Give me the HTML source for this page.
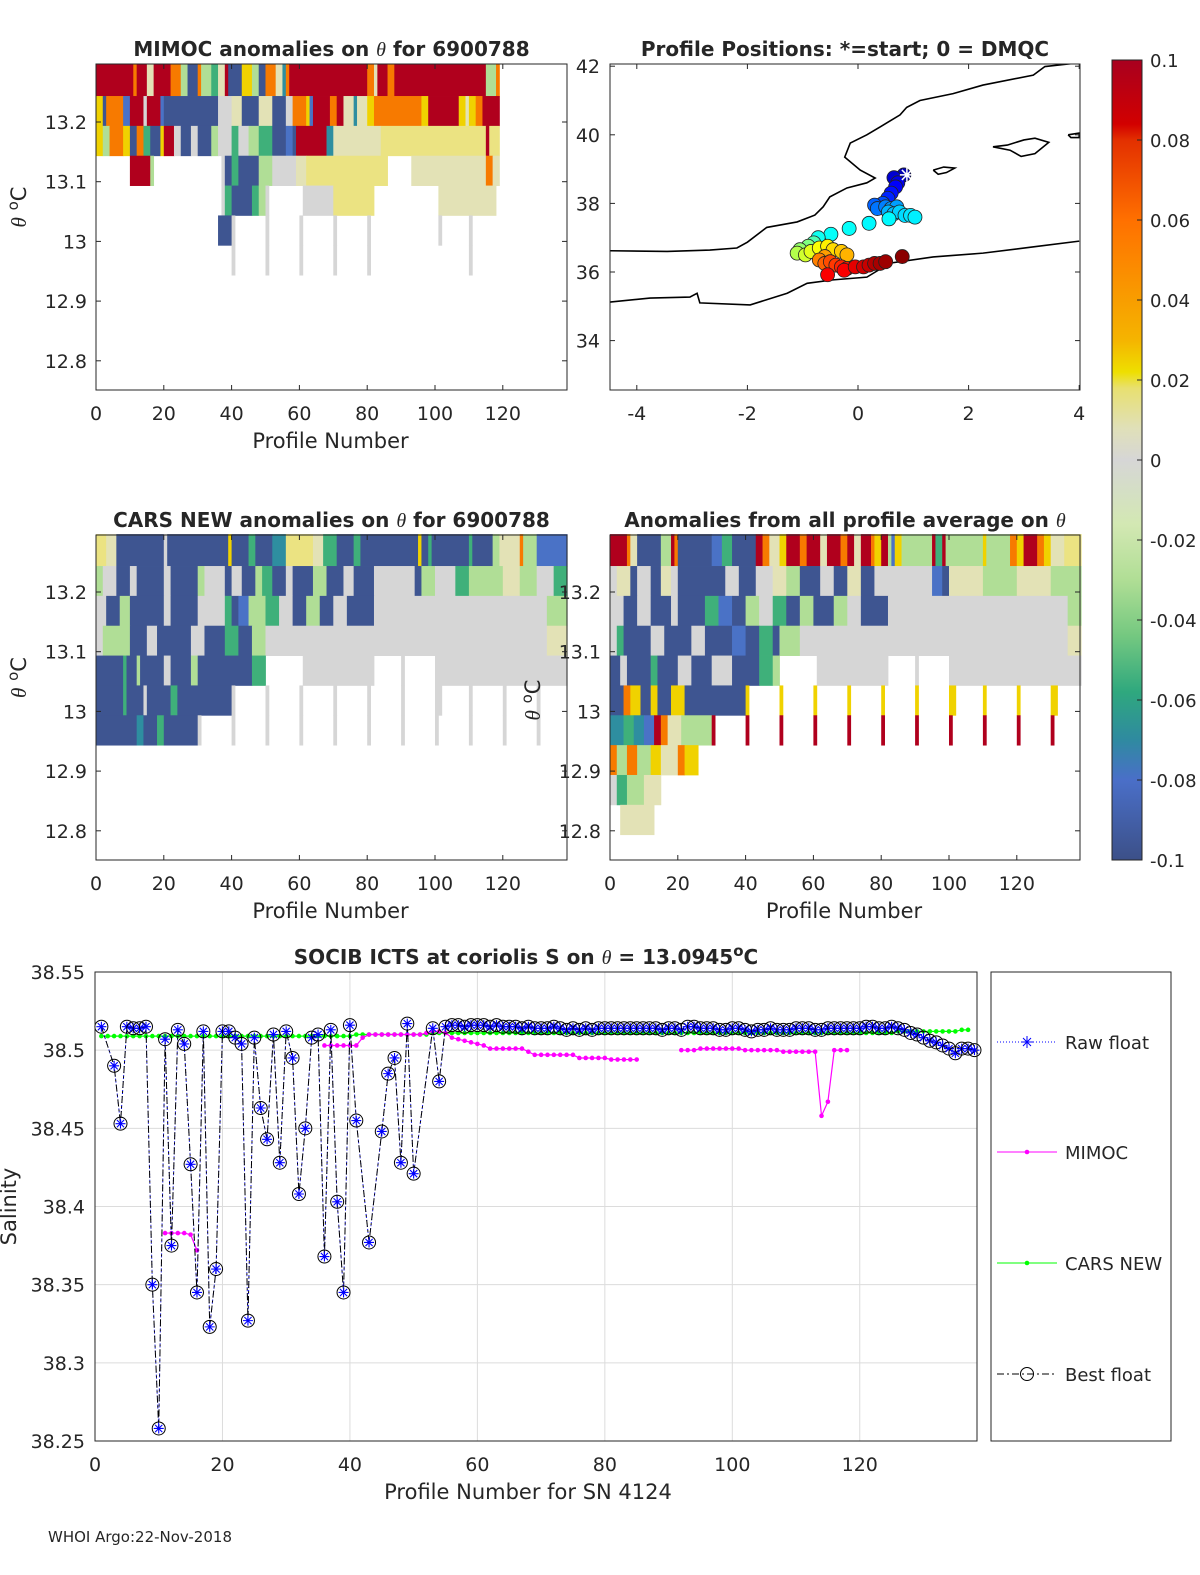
<!DOCTYPE html>
<html><head><meta charset="utf-8"><style>
html,body{margin:0;padding:0;background:#fff;}
svg{display:block;font-family:"DejaVu Sans","Liberation Sans",sans-serif;}
text{fill:#262626;}
</style></head><body>
<svg id="fig" width="1200" height="1575" viewBox="0 0 1200 1575" xmlns="http://www.w3.org/2000/svg">
<defs>
<linearGradient id="cbgrad" x1="0" y1="0" x2="0" y2="1">
<stop offset="0" stop-color="#a8001f"/><stop offset="0.08" stop-color="#d20000"/><stop offset="0.1" stop-color="#e33000"/>
<stop offset="0.2" stop-color="#ff7000"/><stop offset="0.35" stop-color="#f5b400"/><stop offset="0.39" stop-color="#eedf00"/>
<stop offset="0.41" stop-color="#e8e070"/><stop offset="0.46" stop-color="#e0e0b8"/><stop offset="0.5" stop-color="#d6d6d6"/>
<stop offset="0.58" stop-color="#d3e8b3"/><stop offset="0.65" stop-color="#b0de95"/><stop offset="0.72" stop-color="#74c880"/>
<stop offset="0.79" stop-color="#2fa87e"/><stop offset="0.85" stop-color="#2f8aa0"/><stop offset="0.9" stop-color="#4a6fc8"/>
<stop offset="1" stop-color="#3c5088"/></linearGradient>
</defs>
<g id="root"></g>
<text x="48" y="1542" font-size="15">WHOI Argo:22-Nov-2018</text>
</svg>
<script>
// ---------- DATA ----------
const heatThetaEdges=[13.297,13.2435,13.1935,13.1435,13.0935,13.0435,12.9935,12.9435,12.8935,12.8435,12.7935];
const mimocRows=[
[[0,11,'R'],[11,12,'O'],[12,15,'R'],[15,17,'L'],[17,22,'R'],[22,25,'O'],[25,27,'g'],[27,30,'B'],[30,31,'O'],[31,34,'g'],[34,36,'G'],[36,38,'L'],[38,39,'R'],[39,43,'B'],[43,46,'Y'],[46,48,'g'],[48,50,'B'],[50,53,'O'],[53,55,'L'],[55,56,'T'],[56,57,'O'],[57,80,'R'],[80,82,'O'],[82,83,'L'],[83,86,'R'],[86,88,'O'],[88,115,'R'],[115,118,'g'],[118,119,'O']],
[[0,2,'Y'],[2,3,'B'],[3,8,'O'],[8,10,'b'],[10,14,'R'],[14,15,'P'],[15,19,'R'],[19,20,'b'],[20,36,'B'],[36,40,'P'],[40,43,'L'],[43,48,'B'],[48,52,'L'],[52,56,'B'],[56,58,'P'],[58,62,'O'],[62,63,'Y'],[63,64,'b'],[64,69,'R'],[69,71,'O'],[71,73,'R'],[73,76,'L'],[76,77,'T'],[77,80,'L'],[80,82,'Y'],[82,96,'O'],[96,98,'Y'],[98,107,'R'],[107,109,'Y'],[109,110,'L'],[110,112,'Y'],[112,114,'O'],[114,119,'R']],
[[0,2,'Y'],[2,4,'g'],[4,8,'O'],[8,10,'Y'],[10,12,'B'],[12,14,'O'],[14,16,'G'],[16,19,'B'],[19,20,'Y'],[20,23,'R'],[23,25,'P'],[25,28,'B'],[28,30,'P'],[30,34,'B'],[34,36,'g'],[36,40,'P'],[40,42,'G'],[42,45,'P'],[45,48,'g'],[48,52,'G'],[52,56,'B'],[56,58,'b'],[58,59,'B'],[59,68,'R'],[68,70,'T'],[70,84,'L'],[84,115,'y'],[115,116,'R'],[116,119,'y']],
[[10,16,'R'],[16,17,'g'],[37,38,'P'],[38,40,'B'],[40,42,'G'],[42,48,'B'],[48,52,'g'],[52,59,'P'],[59,62,'L'],[62,86,'y'],[93,115,'L'],[115,117,'O'],[117,119,'L']],
[[37,38,'P'],[38,40,'G'],[40,46,'B'],[46,48,'G'],[48,50,'g'],[50,51,'P'],[61,70,'P'],[70,82,'y'],[101,118,'L']],
[[36,40,'B'],[40,41,'P'],[50,51,'P'],[60,61,'P'],[70,71,'P'],[80,81,'P'],[101,102,'P'],[110,111,'P']],
[[40,41,'P'],[50,51,'P'],[60,61,'P'],[70,71,'P'],[80,81,'P'],[110,111,'P']]
];
const carsRows=[
[[0,3,'y'],[3,6,'L'],[6,20,'B'],[20,21,'P'],[21,39,'B'],[39,40,'Y'],[40,45,'B'],[45,47,'G'],[47,52,'B'],[52,56,'T'],[56,64,'y'],[64,67,'L'],[67,71,'G'],[71,76,'B'],[76,78,'G'],[78,95,'B'],[95,96,'Y'],[96,98,'B'],[98,99,'G'],[99,110,'B'],[110,111,'G'],[111,117,'B'],[117,119,'g'],[119,125,'L'],[125,126,'O'],[126,130,'g'],[130,139,'b']],
[[0,2,'g'],[2,6,'P'],[6,10,'B'],[10,12,'P'],[12,20,'B'],[20,22,'P'],[22,30,'B'],[30,32,'g'],[32,38,'P'],[38,40,'B'],[40,43,'P'],[43,47,'B'],[47,49,'g'],[49,52,'G'],[52,56,'B'],[56,58,'P'],[58,64,'B'],[64,68,'g'],[68,73,'B'],[73,76,'P'],[76,82,'B'],[82,94,'P'],[94,96,'B'],[96,100,'g'],[100,106,'P'],[106,110,'G'],[110,120,'g'],[120,125,'L'],[125,130,'g'],[130,135,'P'],[135,139,'G']],
[[0,3,'P'],[3,7,'B'],[7,10,'g'],[10,20,'B'],[20,22,'P'],[22,30,'B'],[30,38,'P'],[38,40,'G'],[40,42,'B'],[42,45,'b'],[45,50,'g'],[50,54,'G'],[54,58,'P'],[58,62,'B'],[62,66,'g'],[66,70,'B'],[70,74,'P'],[74,82,'B'],[82,133,'P'],[133,139,'g']],
[[0,2,'P'],[2,10,'g'],[10,15,'B'],[15,18,'P'],[18,28,'B'],[28,32,'P'],[32,38,'B'],[38,42,'G'],[42,46,'B'],[46,50,'g'],[50,133,'P'],[133,139,'L']],
[[0,8,'B'],[8,9,'G'],[9,12,'B'],[12,13,'g'],[13,20,'B'],[20,22,'P'],[22,28,'B'],[28,30,'g'],[30,46,'B'],[46,50,'G'],[61,82,'P'],[90,91,'P'],[100,139,'P']],
[[0,8,'B'],[8,9,'G'],[9,14,'B'],[14,15,'P'],[15,22,'B'],[22,24,'G'],[24,40,'B'],[40,41,'P'],[50,51,'P'],[60,61,'P'],[70,71,'P'],[80,81,'P'],[90,91,'P'],[100,102,'P'],[110,111,'P'],[120,121,'P'],[130,131,'P']],
[[0,12,'B'],[12,14,'T'],[14,18,'B'],[18,20,'G'],[20,30,'B'],[30,31,'P'],[40,41,'P'],[50,51,'P'],[60,61,'P'],[70,71,'P'],[80,81,'P'],[90,91,'P'],[100,101,'P'],[110,111,'P'],[120,121,'P'],[130,131,'P']]
];
const anomRows=[
[[0,5,'R'],[5,6,'O'],[6,8,'L'],[8,15,'B'],[15,18,'g'],[18,19,'R'],[19,20,'O'],[20,30,'B'],[30,33,'b'],[33,36,'G'],[36,43,'B'],[43,45,'R'],[45,47,'O'],[47,50,'L'],[50,52,'Y'],[52,56,'R'],[56,58,'O'],[58,62,'R'],[62,64,'L'],[64,68,'R'],[68,70,'O'],[70,72,'R'],[72,74,'L'],[74,77,'R'],[77,78,'O'],[78,80,'Y'],[80,82,'R'],[82,83,'g'],[83,84,'b'],[84,86,'Y'],[86,95,'g'],[95,96,'R'],[96,98,'G'],[98,99,'R'],[99,110,'g'],[110,111,'Y'],[111,118,'g'],[118,120,'O'],[120,122,'Y'],[122,126,'R'],[126,128,'O'],[128,130,'Y'],[130,134,'L'],[134,139,'y']],
[[0,2,'P'],[2,6,'L'],[6,8,'B'],[8,12,'P'],[12,15,'B'],[15,18,'L'],[18,20,'P'],[20,34,'B'],[34,38,'P'],[38,43,'B'],[43,48,'P'],[48,52,'L'],[52,56,'g'],[56,62,'B'],[62,66,'P'],[66,70,'B'],[70,74,'L'],[74,78,'B'],[78,95,'P'],[95,98,'b'],[98,100,'B'],[100,110,'L'],[110,120,'g'],[120,130,'L'],[130,139,'g']],
[[0,4,'P'],[4,8,'B'],[8,12,'P'],[12,18,'B'],[18,20,'P'],[20,28,'B'],[28,32,'G'],[32,36,'b'],[36,40,'B'],[40,44,'g'],[44,48,'P'],[48,52,'G'],[52,56,'B'],[56,60,'g'],[60,66,'B'],[66,70,'g'],[70,74,'P'],[74,82,'B'],[82,135,'P'],[135,139,'g']],
[[0,2,'P'],[2,4,'G'],[4,12,'B'],[12,16,'P'],[16,24,'B'],[24,28,'P'],[28,36,'B'],[36,40,'b'],[40,44,'B'],[44,48,'G'],[48,50,'B'],[50,56,'g'],[56,135,'P'],[135,139,'L']],
[[0,3,'B'],[3,5,'P'],[5,12,'B'],[12,14,'G'],[14,20,'B'],[20,24,'P'],[24,30,'B'],[30,36,'P'],[36,44,'B'],[44,48,'G'],[48,50,'g'],[61,82,'P'],[90,91,'P'],[100,139,'P']],
[[0,4,'B'],[4,6,'O'],[6,9,'Y'],[9,12,'B'],[12,14,'Y'],[14,18,'B'],[18,22,'Y'],[22,40,'B'],[40,41,'Y'],[50,51,'Y'],[60,61,'Y'],[70,71,'Y'],[80,81,'Y'],[90,91,'Y'],[100,102,'Y'],[110,111,'Y'],[120,121,'Y'],[130,132,'Y']],
[[0,4,'T'],[4,7,'G'],[7,10,'T'],[10,13,'b'],[13,15,'R'],[15,17,'O'],[17,21,'L'],[21,30,'g'],[30,31,'R'],[40,41,'R'],[50,51,'R'],[60,61,'R'],[70,71,'R'],[80,81,'R'],[90,91,'R'],[100,101,'R'],[110,111,'R'],[120,121,'R'],[130,131,'R']],
[[0,2,'O'],[2,5,'g'],[5,8,'O'],[8,12,'g'],[12,15,'Y'],[15,20,'L'],[20,22,'O'],[22,26,'Y']],
[[0,2,'P'],[2,5,'G'],[5,10,'g'],[10,15,'L']],
[[3,13,'L']]
];
const heatTicksX=[0,20,40,60,80,100,120];
const heatTicksY=[13.2,13.1,13,12.9,12.8];
const mapTicksX=[-4,-2,0,2,4];
const mapTicksY=[42,40,38,36,34];
const profLon=[0.83,0.65,0.72,0.68,0.6,0.54,0.45,0.3,0.35,0.5,0.6,0.7,0.55,0.65,0.75,0.85,0.95,1.03,0.56,0.2,-0.16,-0.49,-0.72,-0.8,-0.9,-1.05,-1.1,-0.95,-0.85,-0.7,-0.55,-0.45,-0.3,-0.2,-0.6,-0.7,-0.6,-0.5,-0.4,-0.3,-0.2,-0.55,-0.25,-0.05,0.1,0.2,0.3,0.4,0.5,0.8];
const profLat=[38.83,38.75,38.6,38.48,38.3,38.15,38.0,37.95,37.85,37.9,37.85,37.9,37.75,37.7,37.75,37.65,37.65,37.6,37.55,37.42,37.27,37.1,37.0,36.85,36.75,36.65,36.55,36.5,36.6,36.7,36.75,36.65,36.6,36.5,36.45,36.35,36.25,36.3,36.2,36.15,36.1,35.92,36.05,36.15,36.15,36.2,36.25,36.25,36.3,36.45];
const profColorFrac=[0.05,0.08,0.1,0.12,0.14,0.16,0.2,0.22,0.24,0.25,0.27,0.28,0.3,0.31,0.33,0.34,0.35,0.36,0.37,0.37,0.38,0.38,0.39,0.45,0.5,0.52,0.55,0.58,0.6,0.62,0.64,0.66,0.68,0.7,0.72,0.75,0.78,0.8,0.82,0.84,0.86,0.88,0.88,0.9,0.92,0.93,0.95,0.96,0.97,0.99];
const coastNorth=[[4.0,42.1],[3.38,41.99],[3.17,41.74],[2.26,41.45],[1.72,41.2],[1.12,41.0],[0.88,40.8],[0.76,40.58],[0.4,40.23],[0.16,40.0],[-0.14,39.76],[-0.24,39.35],[0.04,38.97],[0.31,38.74],[0.16,38.6],[-0.2,38.45],[-0.51,38.19],[-0.63,37.9],[-0.78,37.66],[-1.1,37.46],[-1.65,37.3],[-2.0,36.87],[-2.19,36.7],[-2.68,36.64],[-3.45,36.6],[-4.5,36.62]];
const coastSouth=[[-4.5,35.12],[-3.76,35.24],[-3.04,35.27],[-2.91,35.38],[-2.86,35.1],[-1.95,35.04],[-1.28,35.38],[-0.92,35.67],[-0.45,35.77],[0.16,35.85],[0.58,36.26],[1.36,36.44],[2.26,36.55],[3.16,36.73],[4.0,36.9]];
const ibiza=[[1.36,38.97],[1.55,39.06],[1.75,39.03],[1.6,38.9],[1.45,38.85],[1.36,38.97]];
const mallorca=[[2.44,39.65],[2.7,39.7],[3.0,39.85],[3.2,39.9],[3.45,39.78],[3.2,39.45],[2.95,39.37],[2.75,39.55],[2.44,39.65]];
const menorca=[[3.8,40.0],[4.0,40.05],[4.0,39.92],[3.85,39.92],[3.8,40.0]];
const cbTicks=[0.1,0.08,0.06,0.04,0.02,0,-0.02,-0.04,-0.06,-0.08,-0.1];
const cbLabels=['0.1','0.08','0.06','0.04','0.02','0','-0.02','-0.04','-0.06','-0.08','-0.1'];
// bottom chart (profiles 1..138)
const bestFloat=[38.515,null,38.490,38.453,38.515,38.514,38.514,38.515,38.350,38.258,
38.507,38.375,38.513,38.504,38.427,38.345,38.512,38.323,38.360,38.512,
38.512,38.508,38.504,38.327,38.508,38.463,38.443,38.510,38.428,38.512,
38.495,38.408,38.450,38.508,38.510,38.368,38.513,38.403,38.345,38.516,
38.455,null,38.377,null,38.448,38.485,38.495,38.428,38.517,38.421,
null,null,38.514,38.480,38.515,38.516,38.516,38.515,38.516,38.516,
38.516,38.515,38.516,38.515,38.515,38.515,38.514,38.515,38.514,38.514,
38.514,38.515,38.514,38.513,38.514,38.513,38.514,38.513,38.514,38.514,
38.514,38.514,38.514,38.514,38.514,38.514,38.514,38.514,38.513,38.514,
38.514,38.513,38.515,38.515,38.514,38.514,38.514,38.513,38.513,38.514,
38.514,38.513,38.512,38.513,38.513,38.514,38.513,38.513,38.513,38.514,
38.514,38.514,38.513,38.513,38.514,38.514,38.514,38.514,38.514,38.514,
38.515,38.515,38.514,38.514,38.515,38.514,38.513,38.511,38.510,38.508,
38.506,38.505,38.503,38.501,38.498,38.501,38.501,38.500];
const carsNew=[38.509,38.509,38.509,38.509,38.509,38.509,38.509,38.509,38.509,38.509,
38.509,38.509,38.509,38.509,38.509,38.509,38.509,38.509,38.509,38.509,
38.509,38.509,38.509,38.509,38.509,38.509,38.509,38.509,38.509,38.509,
38.509,38.509,38.509,38.509,38.509,38.509,38.509,38.509,38.509,38.509,
38.510,38.510,38.510,38.510,38.510,38.510,38.510,38.510,38.510,38.510,
38.510,38.510,38.511,38.511,38.511,38.511,38.511,38.511,38.511,38.511,
38.511,38.511,38.511,38.511,38.511,38.511,38.511,38.511,38.511,38.511,
38.511,38.511,38.511,38.511,38.511,38.511,38.511,38.511,38.511,38.511,
38.511,38.511,38.511,38.511,38.511,38.511,38.511,38.511,38.511,38.511,
38.511,38.511,38.511,38.511,38.511,38.511,38.511,38.511,38.511,38.511,
38.511,38.511,38.511,38.511,38.511,38.511,38.511,38.511,38.511,38.511,
38.511,38.511,38.511,38.511,38.511,38.511,38.511,38.511,38.511,38.511,
38.511,38.511,38.511,38.511,38.511,38.512,38.512,38.512,38.512,38.512,
38.512,38.512,38.512,38.512,38.512,38.513,38.513,null];
const mimocS=[null,null,null,null,null,null,null,null,null,null,
38.383,38.383,38.383,38.383,38.382,38.372,null,null,null,null,
null,null,null,null,null,null,null,null,null,null,
null,null,null,null,null,38.503,38.503,38.503,38.503,38.503,
38.503,38.508,38.510,38.510,38.510,38.510,38.510,38.510,38.510,38.510,
38.510,38.511,38.512,38.512,38.511,38.508,38.507,38.506,38.505,38.504,
38.503,38.501,38.501,38.501,38.501,38.501,38.501,38.499,38.497,38.497,
38.497,38.497,38.497,38.497,38.497,38.495,38.495,38.495,38.495,38.495,
38.494,38.494,38.494,38.494,38.494,null,null,null,null,null,
null,38.500,38.500,38.500,38.501,38.501,38.501,38.501,38.501,38.501,
38.501,38.500,38.500,38.500,38.500,38.500,38.500,38.499,38.499,38.499,
38.499,38.499,38.499,38.458,38.467,38.500,38.500,38.500,null,null,
null,null,null,null,null,null,null,null,null,null,
null,null,null,null,null,null,null,null];
const salTicksX=[0,20,40,60,80,100,120];
const salTicksY=[38.25,38.3,38.35,38.4,38.45,38.5,38.55];
const salLabelsY=['38.25','38.3','38.35','38.4','38.45','38.5','38.55'];

// ---------- DRAW ----------
const NS='http://www.w3.org/2000/svg';
const root=document.getElementById('root');
function mk(tag,attrs,parent){const e=document.createElementNS(NS,tag);for(const k in attrs)e.setAttribute(k,attrs[k]);(parent||root).appendChild(e);return e;}
function txt(x,y,s,size,anchor,parent,extra){const t=mk('text',Object.assign({x:x,y:y,'font-size':size,'text-anchor':anchor||'start'},extra||{}),parent);t.textContent=s;return t;}
function titleTxt(x,y,pre,post,parent){const t=mk('text',{x:x,y:y,'font-size':20,'font-weight':'bold','text-anchor':'middle'},parent);
  t.innerHTML=pre+'<tspan font-style="italic" font-weight="normal" font-family="Liberation Serif, serif">θ</tspan>'+post;return t;}
const COL={R:'#b0001d',O:'#f77a00',Y:'#f0d200',L:'#e3e2b6',y:'#ebe382',P:'#d6d6d6',g:'#b0de96',G:'#3fb07a',T:'#2e8ea0',B:'#3e5591',b:'#4a72c6'};

function heatPanel(name,x0,y0,w,h,y132,rows,pre,post,ylab,showXlab){
  const g=mk('g',{});
  
  
  const xs=p=>x0+p*3.39;
  const ys=t=>y132+(13.2-t)*597;
  rows.forEach((row,i)=>{
    const ya=ys(heatThetaEdges[i]), yb=ys(heatThetaEdges[i+1]);
    row.forEach(r=>{
      const c=mk('rect',{x:xs(r[0]),y:ya,width:Math.max(1,xs(r[1])-xs(r[0])+0.4),height:yb-ya+0.4,fill:COL[r[2]]},g);
      
      
    });
  });
  const box=mk('rect',{x:x0,y:y0,width:w,height:h,fill:'none',stroke:'#262626','stroke-width':1},g);
  
  
  heatTicksX.forEach(v=>{const X=xs(v);mk('line',{x1:X,y1:y0+h,x2:X,y2:y0+h-5,stroke:'#262626'},g);mk('line',{x1:X,y1:y0,x2:X,y2:y0+5,stroke:'#262626'},g);
    const t=txt(X,y0+h+30,String(v),19,'middle',g);});
  heatTicksY.forEach(v=>{const Y=ys(v);mk('line',{x1:x0,y1:Y,x2:x0+5,y2:Y,stroke:'#262626'},g);mk('line',{x1:x0+w,y1:Y,x2:x0+w-5,y2:Y,stroke:'#262626'},g);
    const t=txt(x0-9,Y+7,String(v),19,'end',g);});
  const tt=titleTxt(x0+w/2,y0-8,pre,post,g);
  
  
  if(ylab){const yl=mk('text',{'font-size':21,'text-anchor':'middle',transform:'translate('+(x0-70)+','+(y0+h/2-20)+') rotate(-90)'},g);
    yl.innerHTML='<tspan font-style="italic" font-family="Liberation Serif, serif">θ</tspan> <tspan dy="-8" font-size="15">o</tspan><tspan dy="8">C</tspan>';
    }
  if(showXlab){const xl=txt(x0+w/2-1,y0+h+58,'Profile Number',21,'middle',g);
    }
  return g;
}
heatPanel('mimoc-anomaly-panel',96,64,471,326,122,mimocRows,'MIMOC anomalies on ','  for 6900788',true,true);
heatPanel('cars-anomaly-panel',96,535,471,325,592,carsRows,'CARS NEW anomalies on ',' for 6900788',true,true);
const p4=heatPanel('profile-average-anomaly-panel',610,535,470,325,592,anomRows,'Anomalies from all profile average on ','',false,true);
{const yl=mk('text',{'font-size':21,'text-anchor':'middle',transform:'translate(540,700) rotate(-90)'},p4);
 yl.innerHTML='<tspan font-style="italic" font-family="Liberation Serif, serif">θ</tspan> <tspan dy="-8" font-size="15">o</tspan><tspan dy="8">C</tspan>';
 }

// map panel
(function(){
  const x0=610,y0=64,w=470,h=326;
  const g=mk('g',{});
  
  
  const xs=l=>858+l*55.3, ys=a=>272-(a-36)*34.3;
  const clip=mk('clipPath',{id:'mapclip'},g);mk('rect',{x:x0,y:y0,width:w,height:h},clip);
  const cg=mk('g',{'clip-path':'url(#mapclip)'},g);
  [[coastNorth,'coast-north'],[coastSouth,'coast-south'],[ibiza,'ibiza'],[mallorca,'mallorca'],[menorca,'menorca']].forEach(([pts,n])=>{
    const pl=mk('polyline',{points:pts.map(p=>xs(p[0])+','+ys(p[1])).join(' '),fill:'none',stroke:'#000','stroke-width':1.6},cg);
    
  });
  function jet(f){const r=Math.min(1,Math.max(0,1.5-Math.abs(4*f-3))),gg=Math.min(1,Math.max(0,1.5-Math.abs(4*f-2))),b=Math.min(1,Math.max(0,1.5-Math.abs(4*f-1)));return 'rgb('+Math.round(r*255)+','+Math.round(gg*255)+','+Math.round(b*255)+')';}
  const n=profLon.length;
  for(let i=0;i<n;i++){
    const c=mk('circle',{cx:xs(profLon[i]),cy:ys(profLat[i]),r:7,fill:jet(profColorFrac[i]),stroke:'#222','stroke-width':0.8},cg);
    
    
  }
  const sx=xs(profLon[0])+3,sy=ys(profLat[0]);
  const st=mk('path',{d:`M${sx-7},${sy}H${sx+7}M${sx},${sy-7}V${sy+7}M${sx-5},${sy-5}L${sx+5},${sy+5}M${sx-5},${sy+5}L${sx+5},${sy-5}`,stroke:'#fff','stroke-width':1.5},cg);
  
  const box=mk('rect',{x:x0,y:y0,width:w,height:h,fill:'none',stroke:'#262626'},g);
  
  mapTicksX.forEach(v=>{const X=xs(v);mk('line',{x1:X,y1:y0+h,x2:X,y2:y0+h-5,stroke:'#262626'},g);mk('line',{x1:X,y1:y0,x2:X,y2:y0+5,stroke:'#262626'},g);
    const t=txt(X,y0+h+30,String(v),19,'middle',g);});
  mapTicksY.forEach(v=>{const Y=ys(v);mk('line',{x1:x0,y1:Y,x2:x0+5,y2:Y,stroke:'#262626'},g);mk('line',{x1:x0+w,y1:Y,x2:x0+w-5,y2:Y,stroke:'#262626'},g);
    const t=txt(x0-10,Y+7,String(v),19,'end',g);});
  const tt=txt(x0+w/2,y0-8,'Profile Positions: *=start; 0 = DMQC',20,'middle',g,{'font-weight':'bold'});
  
})();

// colorbar
(function(){
  const g=mk('g',{});
  
  
  const x0=1112,y0=60,w=30,h=800;
  mk('rect',{x:x0,y:y0,width:w,height:h,fill:'url(#cbgrad)',stroke:'#262626'},g);
  cbTicks.forEach((v,i)=>{const Y=y0+(0.1-v)/0.2*h;mk('line',{x1:x0+w-5,y1:Y,x2:x0+w,y2:Y,stroke:'#262626'},g);
    const t=txt(x0+w+8,Y+7,cbLabels[i],18,'start',g);});
})();

// salinity chart
(function(){
  const x0=95,y0=972,w=882,h=469;
  const xs=p=>x0+p*6.373, ys=s=>y0+(38.55-s)*1563.3;
  const g=mk('g',{});
  
  
  salTicksX.forEach(v=>{mk('line',{x1:xs(v),y1:y0,x2:xs(v),y2:y0+h,stroke:'#dcdcdc'},g);});
  salTicksY.forEach(v=>{mk('line',{x1:x0,y1:ys(v),x2:x0+w,y2:ys(v),stroke:'#dcdcdc'},g);});
  function segs(arr){const out=[];let cur=[];arr.forEach((v,i)=>{if(v==null){if(cur.length)out.push(cur);cur=[];}else cur.push([xs(i+1),ys(v)]);});if(cur.length)out.push(cur);return out;}
  function segsSkip(arr){const pts=[];arr.forEach((v,i)=>{if(v!=null)pts.push([xs(i+1),ys(v)]);});return [pts];}
  segs(carsNew).forEach(s=>{const l=mk('polyline',{points:s.map(p=>p.join(',')).join(' '),fill:'none',stroke:'#00ff00','stroke-width':1.2},g);});
  carsNew.forEach((v,i)=>{if(v!=null){const c=mk('circle',{cx:xs(i+1),cy:ys(v),r:2.3,fill:'#00ff00'},g);}});
  segs(mimocS).forEach(s=>{const l=mk('polyline',{points:s.map(p=>p.join(',')).join(' '),fill:'none',stroke:'#ff00ff','stroke-width':1.2},g);});
  mimocS.forEach((v,i)=>{if(v!=null){const c=mk('circle',{cx:xs(i+1),cy:ys(v),r:2.3,fill:'#ff00ff'},g);}});
  segsSkip(bestFloat).forEach(s=>{
    const l1=mk('polyline',{points:s.map(p=>p.join(',')).join(' '),fill:'none',stroke:'#0000ff','stroke-width':1,'stroke-dasharray':'1,2'},g);
    
    const l2=mk('polyline',{points:s.map(p=>p.join(',')).join(' '),fill:'none',stroke:'#000','stroke-width':1,'stroke-dasharray':'7,3,2,3'},g);
    
  });
  bestFloat.forEach((v,i)=>{if(v==null)return;const X=xs(i+1),Y=ys(v);
    const a=mk('path',{d:`M${X-5},${Y}H${X+5}M${X},${Y-5}V${Y+5}M${X-3.6},${Y-3.6}L${X+3.6},${Y+3.6}M${X-3.6},${Y+3.6}L${X+3.6},${Y-3.6}`,stroke:'#0000ff','stroke-width':1.1,fill:'none'},g);
    
    const c=mk('circle',{cx:X,cy:Y,r:6.5,fill:'none',stroke:'#000','stroke-width':1},g);
    });
  const box=mk('rect',{x:x0,y:y0,width:w,height:h,fill:'none',stroke:'#262626'},g);
  
  salTicksX.forEach(v=>{const t=txt(xs(v),y0+h+30,String(v),19,'middle',g);});
  salTicksY.forEach((v,i)=>{const t=txt(x0-10,ys(v)+7,salLabelsY[i],19,'end',g);});
  const xl=txt(x0+w/2-8,y0+h+58,'Profile Number for SN 4124',21,'middle',g);
  const yl=txt(0,0,'Salinity',21,'middle',g,{transform:'translate(16,'+(y0+h/2)+') rotate(-90)'});
  const tt=mk('text',{x:x0+w/2-10,y:y0-8,'font-size':20,'font-weight':'bold','text-anchor':'middle'},g);
  tt.innerHTML='SOCIB ICTS at coriolis S on <tspan font-style="italic" font-weight="normal" font-family="Liberation Serif, serif">θ</tspan> = 13.0945<tspan dy="-8" font-size="15">o</tspan><tspan dy="8">C</tspan>';
  
  const lg=mk('g',{},root);
  
  
  mk('rect',{x:991,y:972,width:180,height:469,fill:'#fff',stroke:'#262626'},lg);
  const items=[['Raw float',1042,'raw'],['MIMOC',1152,'mimoc'],['CARS NEW',1263,'cars'],['Best float',1374,'best']];
  items.forEach(([lab,Y,k])=>{
    const e=mk('g',{},lg);
    
    
    if(k==='raw'){mk('line',{x1:997,y1:Y,x2:1057,y2:Y,stroke:'#0000ff','stroke-dasharray':'1,2'},e);
      mk('path',{d:`M1021,${Y}H1033M1027,${Y-6}V${Y+6}M1023,${Y-4}L1031,${Y+4}M1023,${Y+4}L1031,${Y-4}`,stroke:'#0000ff'},e);}
    if(k==='mimoc'){mk('line',{x1:997,y1:Y,x2:1057,y2:Y,stroke:'#ff00ff'},e);mk('circle',{cx:1027,cy:Y,r:2.3,fill:'#ff00ff'},e);}
    if(k==='cars'){mk('line',{x1:997,y1:Y,x2:1057,y2:Y,stroke:'#00ff00'},e);mk('circle',{cx:1027,cy:Y,r:2.3,fill:'#00ff00'},e);}
    if(k==='best'){mk('line',{x1:997,y1:Y,x2:1057,y2:Y,stroke:'#000','stroke-dasharray':'7,3,2,3'},e);mk('circle',{cx:1027,cy:Y,r:6.5,fill:'none',stroke:'#000'},e);}
    txt(1065,Y+7,lab,18,'start',e);
  });
})();
</script>
</body></html>
